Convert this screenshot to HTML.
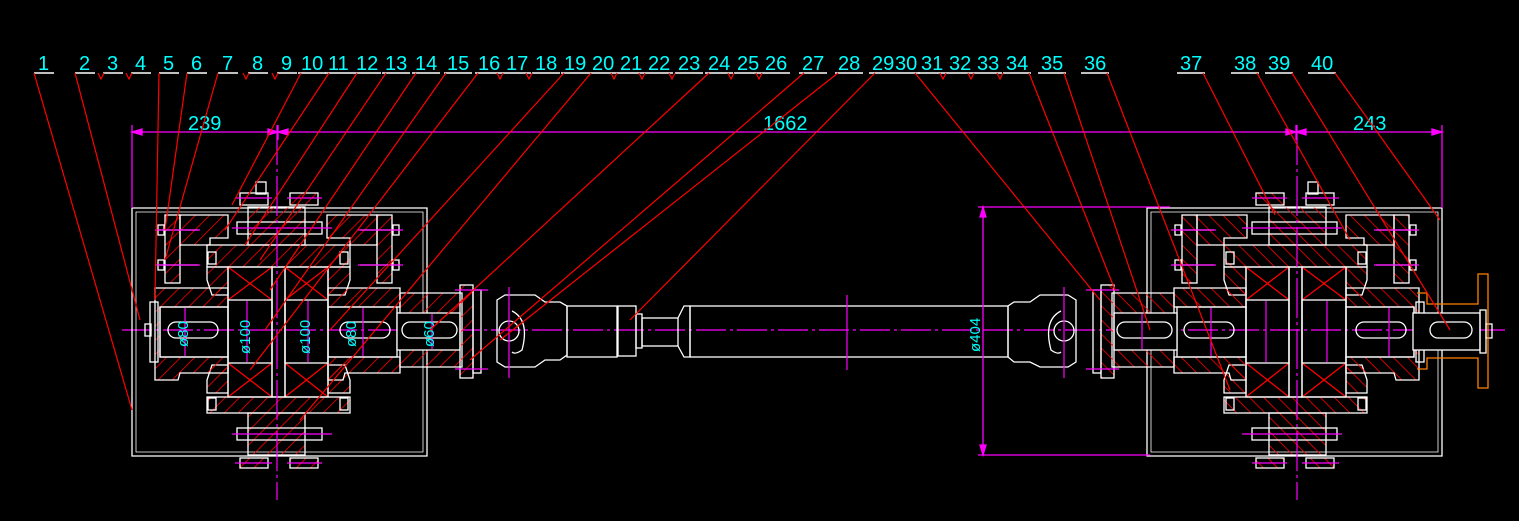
<!DOCTYPE html>
<html><head><meta charset="utf-8"><style>
html,body{margin:0;padding:0;background:#000;}
svg{display:block;}
text{font-family:"Liberation Sans",sans-serif;}
</style></head><body>
<svg width="1519" height="521" viewBox="0 0 1519 521" xmlns="http://www.w3.org/2000/svg">
<defs>
<pattern id="h" width="10" height="10" patternUnits="userSpaceOnUse" patternTransform="rotate(45)">
<line x1="0" y1="0" x2="0" y2="10" stroke="#ff0000" stroke-width="1.6"/>
</pattern>
<g id="unit" fill="none" stroke="#fff" stroke-width="1.3">
<path d="M132 208 H427 V456 H132 Z"/>
<path d="M136 212 H423 V452 H136 Z" stroke-width="0.8"/>
<rect x="165" y="215" width="15" height="68" fill="url(#h)"/>
<rect x="377" y="215" width="15" height="68" fill="url(#h)"/>
<path d="M180 215 H228 V238 H210 V245 H180 Z" fill="url(#h)"/>
<path d="M327 215 H377 V245 H350 V238 H327 Z" fill="url(#h)"/>
<line x1="158" y1="230" x2="198" y2="230"/><line x1="158" y1="265" x2="198" y2="265"/>
<line x1="360" y1="230" x2="400" y2="230"/><line x1="360" y1="265" x2="400" y2="265"/>
<rect x="158" y="225" width="6" height="10"/><rect x="158" y="260" width="6" height="10"/>
<rect x="393" y="225" width="6" height="10"/><rect x="393" y="260" width="6" height="10"/>
<rect x="248" y="207" width="57" height="38" fill="url(#h)"/>
<rect x="237" y="222" width="85" height="12"/>
<rect x="240" y="193" width="28" height="12"/><rect x="290" y="193" width="28" height="12" fill="url(#h)"/>
<rect x="256" y="182" width="10" height="12"/>
<rect x="207" y="245" width="143" height="22" fill="url(#h)"/>
<path d="M207 267 L228 267 L228 295 L212 295 L207 280 Z" fill="url(#h)"/>
<path d="M350 267 L328 267 L328 295 L345 295 L350 280 Z" fill="url(#h)"/>
<path d="M207 393 L228 393 L228 365 L212 365 L207 380 Z" fill="url(#h)"/>
<path d="M350 393 L328 393 L328 365 L345 365 L350 380 Z" fill="url(#h)"/>
<g stroke="#ff0000"><path d="M228 267 L272 300 M272 267 L228 300 M285 267 L328 300 M328 267 L285 300 M228 363 L272 397 M272 363 L228 397 M285 363 L328 397 M328 363 L285 397"/></g>
<rect x="228" y="267" width="44" height="130"/>
<rect x="285" y="267" width="43" height="130"/>
<rect x="228" y="300" width="44" height="63"/>
<rect x="285" y="300" width="43" height="63"/>
<rect x="272" y="267" width="13" height="130"/>
<path d="M155 288 H228 V307 H160 V357 H228 V373 H180 L178 380 H155 Z" fill="url(#h)"/>
<path d="M328 288 H400 V307 H328 Z" fill="url(#h)"/>
<path d="M328 357 H400 V373 H345 L343 380 H328 Z" fill="url(#h)"/>
<rect x="160" y="307" width="68" height="50"/>
<rect x="328" y="307" width="69" height="50"/>
<rect x="150" y="302" width="8" height="60"/>
<rect x="145" y="324" width="6" height="12"/>
<rect x="168" y="322" width="50" height="16" rx="8"/>
<rect x="340" y="322" width="50" height="16" rx="8"/>
<path d="M400 293 H462 V367 H400 Z" fill="url(#h)"/>
<rect x="397" y="313" width="63" height="37" fill="#000"/>
<rect x="402" y="322" width="55" height="16" rx="8"/>
<rect x="460" y="285" width="13" height="93" fill="url(#h)"/>
<rect x="473" y="290" width="8" height="83"/>
<rect x="248" y="413" width="57" height="42" fill="url(#h)"/>
<rect x="237" y="428" width="85" height="12"/>
<rect x="240" y="458" width="28" height="10" fill="url(#h)"/>
<rect x="290" y="458" width="28" height="10" fill="url(#h)"/>
<rect x="207" y="397" width="143" height="16" fill="url(#h)"/>
<rect x="208" y="398" width="8" height="12"/><rect x="340" y="398" width="8" height="12"/>
<rect x="208" y="252" width="8" height="12"/><rect x="340" y="252" width="8" height="12"/>
<g stroke="#ff00ff" stroke-width="1.2">
<line x1="277" y1="125" x2="277" y2="500" stroke-dasharray="40,4,3,4"/>
<line x1="185" y1="308" x2="185" y2="356"/>
<line x1="247" y1="301" x2="247" y2="362"/>
<line x1="308" y1="301" x2="308" y2="362"/>
<line x1="363" y1="308" x2="363" y2="356"/>
<line x1="432" y1="314" x2="432" y2="349"/>
<line x1="232" y1="228" x2="332" y2="228"/>
<line x1="232" y1="434" x2="332" y2="434"/>
<line x1="155" y1="230" x2="200" y2="230"/><line x1="155" y1="265" x2="200" y2="265"/>
<line x1="358" y1="230" x2="403" y2="230"/><line x1="358" y1="265" x2="403" y2="265"/>
<line x1="235" y1="198" x2="272" y2="198"/><line x1="287" y1="198" x2="322" y2="198"/>
<line x1="235" y1="463" x2="272" y2="463"/><line x1="287" y1="463" x2="322" y2="463"/>
<line x1="455" y1="290" x2="488" y2="290"/><line x1="455" y1="369" x2="488" y2="369"/>
</g>
</g>
</defs>

<line x1="122" y1="330" x2="1505" y2="330" stroke="#ff00ff" stroke-width="1.2" stroke-dasharray="30,4,3,4"/>

<use href="#unit"/>
<use href="#unit" transform="translate(1574,0) scale(-1,1)"/>

<g fill="none" stroke="#fff" stroke-width="1.3">
<rect x="1413" y="313" width="67" height="37" fill="#000"/>
<rect x="1430" y="322" width="42" height="16" rx="8"/>
<rect x="1480" y="310" width="6" height="43"/>
<rect x="1486" y="324" width="6" height="14"/>
</g>
<path d="M1417 293 H1427 V304 H1478 V274 H1488 V388 H1478 V358 H1427 V369 H1417" fill="none" stroke="#ff8000" stroke-width="1.3"/>

<g fill="none" stroke="#fff" stroke-width="1.3">
<path d="M497 300 L505 295 H535 L545 302 H560 L567 306 V355 L560 360 H545 L535 367 H505 L497 362 Z"/>
<circle cx="509" cy="331" r="10"/>
<path d="M512 311 Q530 320 522 350 Q515 355 512 352"/>
<rect x="567" y="306" width="50" height="51"/>
<rect x="618" y="306" width="18" height="50"/>
<rect x="636" y="314" width="6" height="34"/>
<rect x="642" y="318" width="36" height="28"/>
<path d="M678 318 L684 306 H690 V357 H684 L678 346"/>
<rect x="690" y="306" width="318" height="51"/>
<path d="M1076 300 L1068 295 H1040 L1030 302 H1014 L1008 306 V357 L1014 362 H1030 L1040 367 H1068 L1076 362 Z"/>
<circle cx="1064" cy="331" r="10"/>
<path d="M1061 311 Q1043 320 1051 350 Q1058 355 1061 352"/>
</g>
<g stroke="#ff00ff" stroke-width="1.2">
<line x1="509" y1="287" x2="509" y2="378"/>
<line x1="1064" y1="287" x2="1064" y2="378"/>
<line x1="847" y1="295" x2="847" y2="370"/>
</g>

<g stroke="#ff00ff" stroke-width="1.3" fill="#ff00ff">
<line x1="132" y1="132" x2="1442" y2="132"/>
<line x1="132" y1="125" x2="132" y2="208"/>
<line x1="1442" y1="125" x2="1442" y2="208"/>
<line x1="278" y1="125" x2="278" y2="140"/>
<line x1="1296" y1="125" x2="1296" y2="140"/>
<line x1="983" y1="207" x2="983" y2="456"/>
<line x1="978" y1="207" x2="1170" y2="207"/>
<line x1="978" y1="455" x2="1150" y2="455"/>
<path d="M132 132 l10 -3 v6z M278 132 l-10 -3 v6z M278 132 l10 -3 v6z M1296 132 l-10 -3 v6z M1296 132 l10 -3 v6z M1442 132 l-10 -3 v6z M983 207 l-3 10 h6z M983 455 l-3 -10 h6z"/>
</g>
<g fill="#00ffff" font-size="20">
<text x="188" y="130">239</text>
<text x="763" y="130">1662</text>
<text x="1353" y="130">243</text>
</g>
<g fill="#00ffff" font-size="15">
<text transform="translate(188,347) rotate(-90)">ø80</text>
<text transform="translate(250,354) rotate(-90)">ø100</text>
<text transform="translate(310,354) rotate(-90)">ø100</text>
<text transform="translate(356,347) rotate(-90)">ø80</text>
<text transform="translate(434,347) rotate(-90)">ø60</text>
<text transform="translate(980,352) rotate(-90)">ø404</text>
</g>

<g fill="#00ffff" font-size="20">
<text x="38" y="70">1</text><text x="79" y="70">2</text><text x="107" y="70">3</text><text x="135" y="70">4</text>
<text x="163" y="70">5</text><text x="191" y="70">6</text><text x="222" y="70">7</text><text x="252" y="70">8</text>
<text x="281" y="70">9</text><text x="301" y="70">10</text><text x="328" y="70">11</text><text x="356" y="70">12</text>
<text x="385" y="70">13</text><text x="415" y="70">14</text><text x="447" y="70">15</text><text x="478" y="70">16</text>
<text x="506" y="70">17</text><text x="535" y="70">18</text><text x="564" y="70">19</text><text x="592" y="70">20</text>
<text x="620" y="70">21</text><text x="648" y="70">22</text><text x="678" y="70">23</text><text x="708" y="70">24</text>
<text x="737" y="70">25</text><text x="765" y="70">26</text><text x="802" y="70">27</text><text x="838" y="70">28</text>
<text x="872" y="70">29</text><text x="895" y="70">30</text><text x="921" y="70">31</text><text x="949" y="70">32</text>
<text x="977" y="70">33</text><text x="1006" y="70">34</text><text x="1041" y="70">35</text><text x="1084" y="70">36</text>
<text x="1180" y="70">37</text><text x="1234" y="70">38</text><text x="1268" y="70">39</text><text x="1311" y="70">40</text>
</g>
<g stroke="#fff" stroke-width="1.5">
<line x1="34" y1="73" x2="54" y2="73"/><line x1="75" y1="73" x2="95" y2="73"/><line x1="103" y1="73" x2="123" y2="73"/><line x1="131" y1="73" x2="151" y2="73"/>
<line x1="159" y1="73" x2="179" y2="73"/><line x1="187" y1="73" x2="207" y2="73"/><line x1="218" y1="73" x2="238" y2="73"/><line x1="248" y1="73" x2="268" y2="73"/>
<line x1="277" y1="73" x2="297" y2="73"/><line x1="298" y1="73" x2="326" y2="73"/><line x1="325" y1="73" x2="353" y2="73"/><line x1="353" y1="73" x2="381" y2="73"/>
<line x1="382" y1="73" x2="410" y2="73"/><line x1="412" y1="73" x2="440" y2="73"/><line x1="444" y1="73" x2="472" y2="73"/><line x1="475" y1="73" x2="503" y2="73"/>
<line x1="503" y1="73" x2="531" y2="73"/><line x1="532" y1="73" x2="560" y2="73"/><line x1="561" y1="73" x2="589" y2="73"/><line x1="589" y1="73" x2="617" y2="73"/>
<line x1="617" y1="73" x2="645" y2="73"/><line x1="645" y1="73" x2="673" y2="73"/><line x1="675" y1="73" x2="703" y2="73"/><line x1="705" y1="73" x2="733" y2="73"/>
<line x1="734" y1="73" x2="762" y2="73"/><line x1="762" y1="73" x2="790" y2="73"/><line x1="799" y1="73" x2="827" y2="73"/><line x1="835" y1="73" x2="863" y2="73"/>
<line x1="869" y1="73" x2="920" y2="73"/><line x1="918" y1="73" x2="946" y2="73"/><line x1="946" y1="73" x2="974" y2="73"/>
<line x1="974" y1="73" x2="1002" y2="73"/><line x1="1003" y1="73" x2="1031" y2="73"/><line x1="1038" y1="73" x2="1066" y2="73"/><line x1="1081" y1="73" x2="1109" y2="73"/>
<line x1="1177" y1="73" x2="1205" y2="73"/><line x1="1231" y1="73" x2="1259" y2="73"/><line x1="1265" y1="73" x2="1293" y2="73"/><line x1="1308" y1="73" x2="1336" y2="73"/>
</g>
<g stroke="#ff0000" stroke-width="1.2" fill="none">
<line x1="34" y1="73" x2="132" y2="410"/>
<line x1="75" y1="73" x2="140" y2="320"/>
<line x1="159" y1="73" x2="155" y2="300"/>
<line x1="187" y1="73" x2="165" y2="230"/>
<line x1="218" y1="73" x2="165" y2="260"/>
<line x1="301" y1="73" x2="232" y2="205"/>
<line x1="329" y1="73" x2="225" y2="230"/>
<line x1="357" y1="73" x2="245" y2="245"/>
<line x1="386" y1="73" x2="260" y2="260"/>
<line x1="416" y1="73" x2="270" y2="290"/>
<line x1="446" y1="73" x2="265" y2="330"/>
<line x1="478" y1="73" x2="250" y2="370"/>
<line x1="564" y1="73" x2="330" y2="330"/>
<line x1="591" y1="73" x2="300" y2="420"/>
<line x1="709" y1="73" x2="430" y2="330"/>
<line x1="804" y1="73" x2="470" y2="360"/>
<line x1="838" y1="73" x2="500" y2="340"/>
<line x1="875" y1="73" x2="630" y2="320"/>
<line x1="915" y1="73" x2="1100" y2="300"/>
<line x1="1029" y1="73" x2="1115" y2="290"/>
<line x1="1064" y1="73" x2="1150" y2="330"/>
<line x1="1107" y1="73" x2="1230" y2="390"/>
<line x1="1203" y1="73" x2="1275" y2="215"/>
<line x1="1257" y1="73" x2="1350" y2="240"/>
<line x1="1292" y1="73" x2="1450" y2="330"/>
<line x1="1335" y1="73" x2="1440" y2="220"/>
<path d="M98 73 L101 79 L104 73 M126 73 L129 79 L132 73 M243 73 L246 79 L249 73 M272 73 L275 79 L278 73 M497 73 L500 79 L503 73 M526 73 L529 79 L532 73 M611 73 L614 79 L617 73 M639 73 L642 79 L645 73 M669 73 L672 79 L675 73 M728 73 L731 79 L734 73 M756 73 L759 79 L762 73 M940 73 L943 79 L946 73 M968 73 L971 79 L974 73 M997 73 L1000 79 L1003 73"/>
</g>
</svg>
</body></html>
